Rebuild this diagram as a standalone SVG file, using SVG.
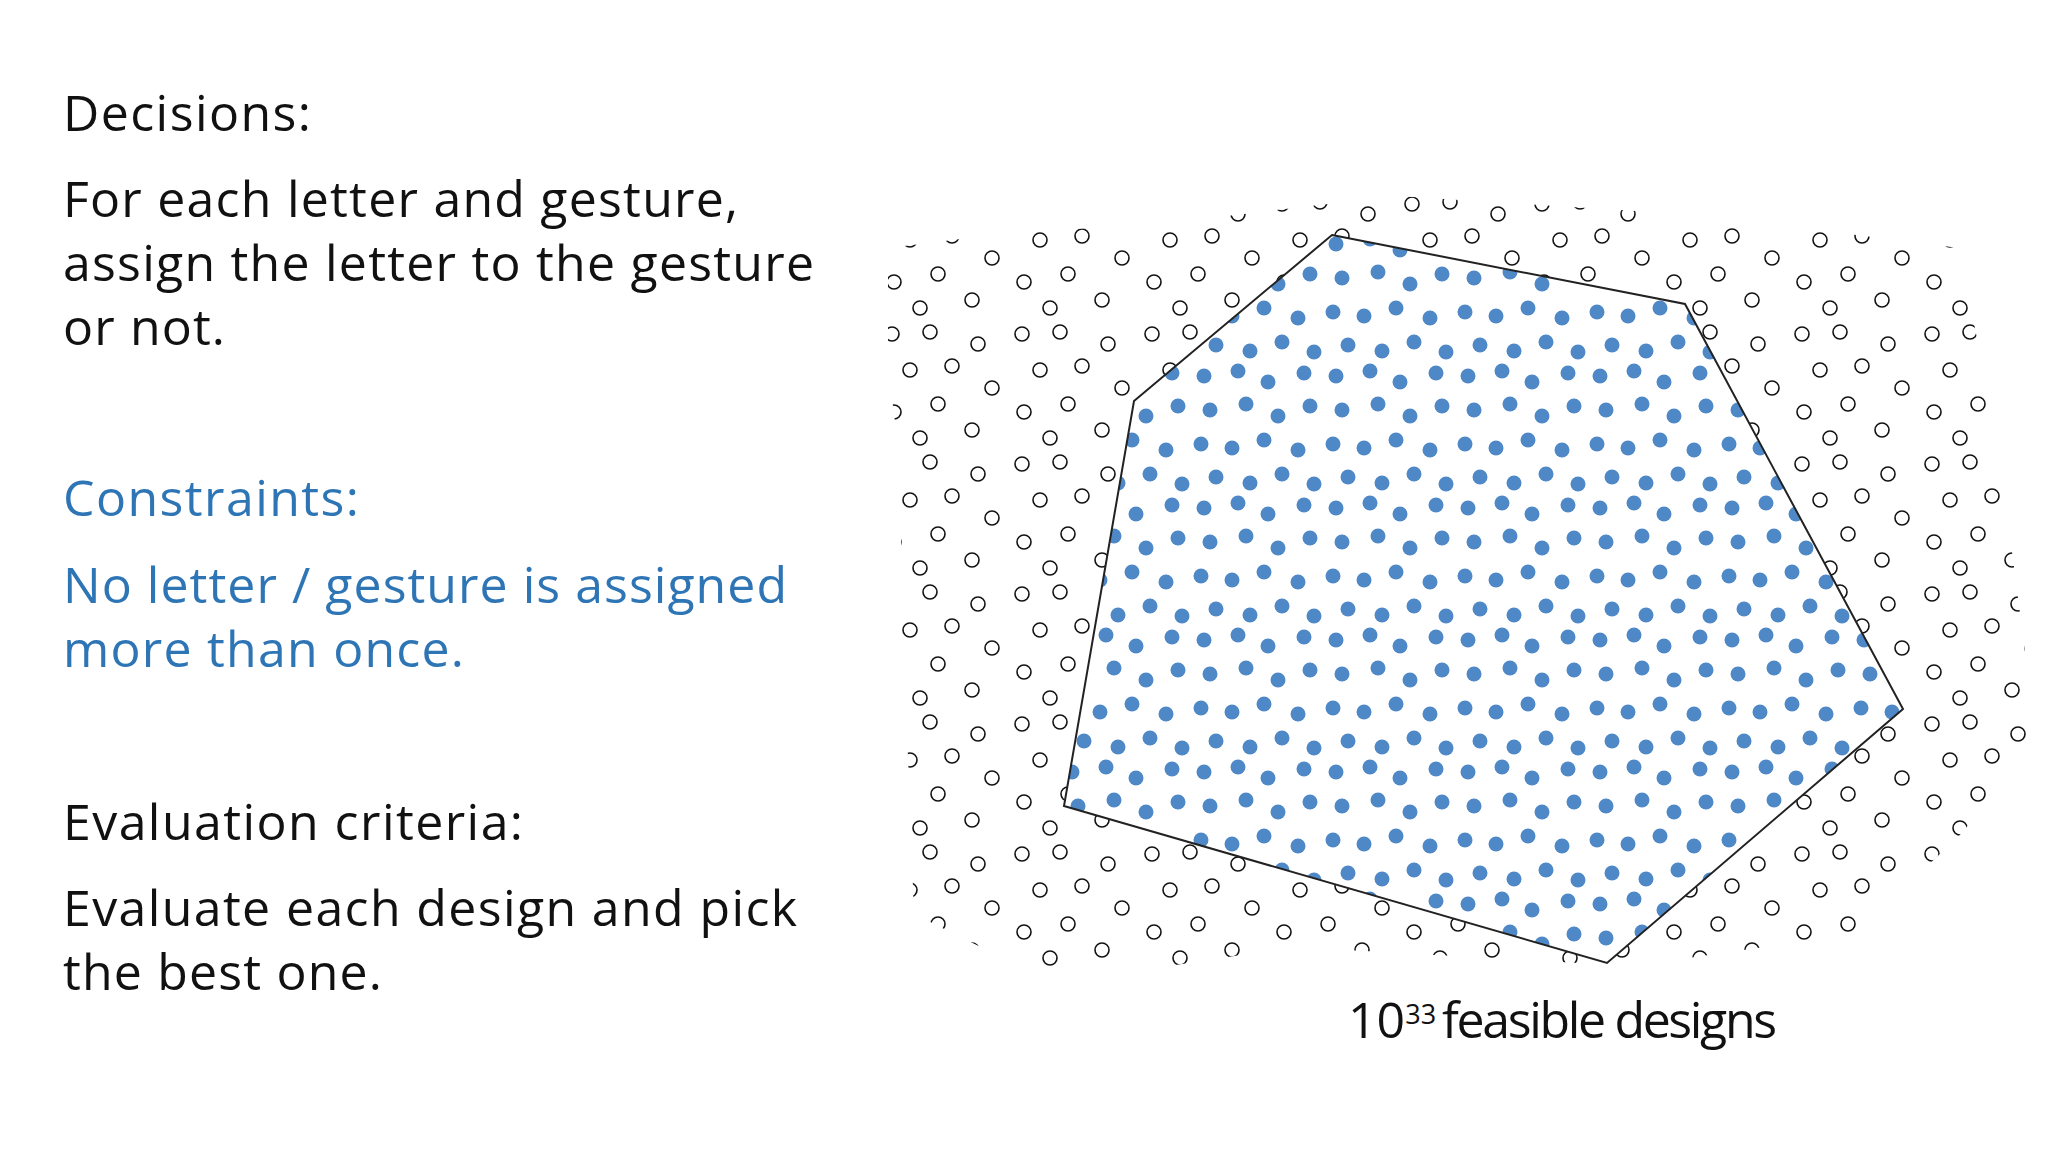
<svg xmlns="http://www.w3.org/2000/svg" width="2048" height="1152" viewBox="0 0 2048 1152">
<style>
.t{font-family:"Open Sans","Liberation Sans",sans-serif;font-size:50px;fill:#111}
.b{fill:#2E75B6}
</style>
<defs>
<pattern id="blue" width="132" height="132" patternUnits="userSpaceOnUse" x="1060" y="230">
<g fill="#4F88C6">
<circle cx="12" cy="14" r="7.5"/><circle cx="46" cy="9" r="7.5"/><circle cx="76" cy="20" r="7.5"/><circle cx="112" cy="11" r="7.5"/>
<circle cx="18" cy="48" r="7.5"/><circle cx="54" cy="42" r="7.5"/><circle cx="86" cy="54" r="7.5"/><circle cx="118" cy="44" r="7.5"/>
<circle cx="9" cy="82" r="7.5"/><circle cx="40" cy="86" r="7.5"/><circle cx="72" cy="78" r="7.5"/><circle cx="106" cy="88" r="7.5"/>
<circle cx="24" cy="115" r="7.5"/><circle cx="58" cy="121" r="7.5"/><circle cx="90" cy="112" r="7.5"/><circle cx="122" cy="122" r="7.5"/>
</g>
</pattern>
<pattern id="hollow" width="130" height="130" patternUnits="userSpaceOnUse" x="880" y="190">
<g fill="#fff" stroke="#111" stroke-width="1.6">
<circle cx="12" cy="14" r="7"/><circle cx="50" cy="12" r="7"/><circle cx="98" cy="24" r="7"/>
<circle cx="30" cy="50" r="7"/><circle cx="72" cy="46" r="7"/><circle cx="112" cy="68" r="7"/>
<circle cx="14" cy="92" r="7"/><circle cx="58" cy="84" r="7"/><circle cx="92" cy="110" r="7"/><circle cx="40" cy="118" r="7"/>
</g>
</pattern>
</defs>
<rect width="2048" height="1152" fill="#fff"/>
<g id="text">
<text class="t" x="63" y="131" textLength="248">Decisions:</text>
<text class="t" x="63" y="217" textLength="675">For each letter and gesture,</text>
<text class="t" x="63" y="281" textLength="751">assign the letter to the gesture</text>
<text class="t" x="63" y="345" textLength="162">or not.</text>
<text class="t b" x="63" y="516" textLength="296">Constraints:</text>
<text class="t b" x="63" y="603" textLength="724">No letter / gesture is assigned</text>
<text class="t b" x="63" y="667" textLength="401">more than once.</text>
<text class="t" x="63" y="840" textLength="460">Evaluation criteria:</text>
<text class="t" x="63" y="926" textLength="734">Evaluate each design and pick</text>
<text class="t" x="63" y="990" textLength="319">the best one.</text>
</g>
<g id="cloud">
<polygon points="888,248 993,235 1175,222 1397,196 1698,215 1959,248 1998,444 2037,744 1959,836 1855,934 1633,966 1293,947 1123,973 1019,966 914,914 908,757 901,614 901,470 888,366" fill="url(#hollow)"/>
</g>
<g id="feasible-region">
<polygon points="1332,235 1685,304 1903,709 1607,963 1064,806 1134,401" fill="#fff"/>
<polygon points="1332,235 1685,304 1903,709 1607,963 1064,806 1134,401" fill="url(#blue)" stroke="#222" stroke-width="2"/>
</g>
<g id="label">
<text class="t" x="1348" y="1038" font-size="42">10<tspan font-size="27" dy="-14">33</tspan><tspan dy="14" dx="6" textLength="335">feasible designs</tspan></text>
</g>
</svg>
